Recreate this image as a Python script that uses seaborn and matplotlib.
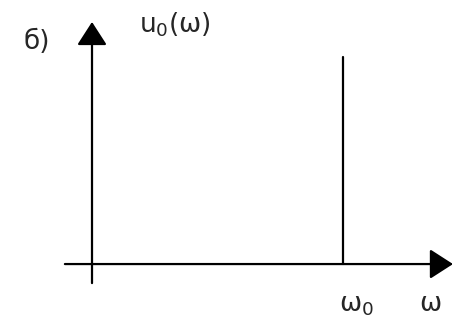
import matplotlib
matplotlib.use("Agg")
import matplotlib.pyplot as plt
import seaborn as sns
import pandas as pd

sns.set_theme(style="white")
plt.rcParams['font.family'] = ['DejaVu Sans']
plt.rcParams['mathtext.fontset'] = 'dejavusans'

# spectrum of a single harmonic: one line at omega_0
omega = [1.0, 1.0]
amplitude = [0.0, 1.0]
panel_label = "б)"
y_label = r"$\mathregular{u_0(\omega)}$"
x_labels = [r"$\mathregular{\omega_0}$", r"$\mathregular{\omega}$"]

df = pd.DataFrame({"omega": omega, "u": amplitude})

fig = plt.figure(figsize=(4.55, 3.21), dpi=100)
ax = fig.add_axes([0, 0, 1, 1])
sns.lineplot(data=df, x="omega", y="u", ax=ax, color="black", lw=1.6,
             sort=False, estimator=None)

ax.set_xlim(-0.3665, 1.446)
ax.set_ylim(-0.275, 1.275)
ax.axis("off")

arrow = dict(arrowstyle="-|>,head_length=0.9,head_width=0.58", color="black",
             lw=1.6, mutation_scale=16, shrinkA=0, shrinkB=0)
# frequency axis
ax.annotate("", xy=(1.438, 0), xytext=(-0.108, 0), arrowprops=arrow)
# amplitude axis
ax.annotate("", xy=(0, 1.169), xytext=(0, -0.092), arrowprops=arrow)

ax.text(-0.219, 1.072, panel_label, fontsize=19, ha="center", va="center")
ax.text(0.331, 1.155, y_label, fontsize=19, ha="center", va="center")
ax.text(1.055, -0.198, x_labels[0], fontsize=19, ha="center", va="center")
ax.text(1.347, -0.193, x_labels[1], fontsize=19, ha="center", va="center")

fig.savefig("out.png", dpi=100)
